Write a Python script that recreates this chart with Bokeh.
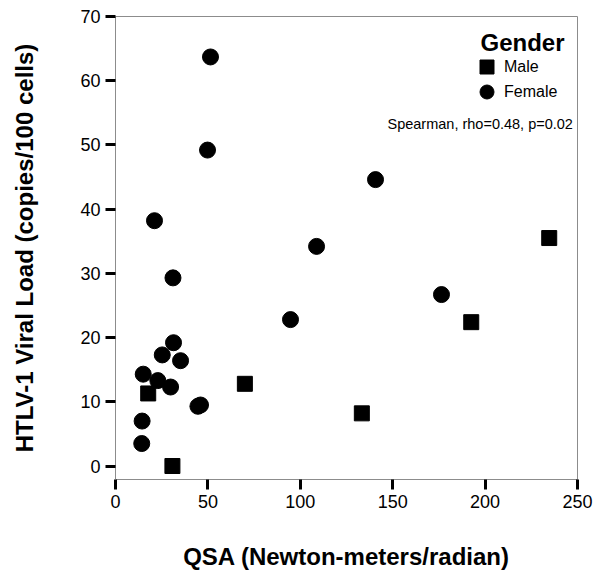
from bokeh.plotting import figure
from bokeh.models import Range1d, Legend, LegendItem, Label, FixedTicker
from bokeh.embed import file_html
from bokeh.resources import INLINE

# Data
female_qsa = [51.4, 49.8, 21.1, 31.1, 31.4, 25.3, 35.2, 15.0, 22.9, 29.8, 44.6, 46.0, 14.4, 14.2, 140.7, 108.8, 176.4, 94.7]
female_vl = [63.7, 49.2, 38.2, 29.3, 19.2, 17.3, 16.4, 14.3, 13.3, 12.3, 9.3, 9.5, 7.0, 3.5, 44.6, 34.2, 26.7, 22.8]
male_qsa = [17.7, 30.8, 70.0, 133.3, 192.5, 234.7]
male_vl = [11.3, 0.0, 12.8, 8.2, 22.4, 35.5]

x_ticks = [0, 50, 100, 150, 200, 250]
y_ticks = [0, 10, 20, 30, 40, 50, 60, 70]

FONT = "Liberation Sans"

p = figure(width=600, height=579, output_backend="svg", toolbar_location=None,
           x_range=Range1d(0, 250), y_range=Range1d(-2.1, 70),
           min_border_left=115, min_border_right=23, min_border_top=16, min_border_bottom=100)

p.xgrid.visible = False
p.ygrid.visible = False
p.outline_line_color = "#8c8c8c"
p.outline_line_width = 1

for ax in (p.xaxis[0], p.yaxis[0]):
    ax.axis_line_color = "#8c8c8c"
    ax.axis_line_width = 1
    ax.major_tick_line_color = "black"
    ax.major_tick_line_width = 3
    ax.major_tick_in = 0
    ax.major_tick_out = 10
    ax.minor_tick_line_color = None
    ax.major_label_text_font = FONT
    ax.major_label_text_font_size = "18px"
    ax.major_label_text_color = "black"
    ax.axis_label_text_font = FONT
    ax.axis_label_text_font_size = "24px"
    ax.axis_label_text_font_style = "bold"
    ax.axis_label_text_color = "black"

p.xaxis[0].ticker = FixedTicker(ticks=x_ticks)
p.yaxis[0].ticker = FixedTicker(ticks=y_ticks)
p.xaxis[0].axis_label = "QSA (Newton-meters/radian)"
p.yaxis[0].axis_label = "HTLV-1 Viral Load (copies/100 cells)"
p.xaxis[0].major_label_standoff = 5
p.yaxis[0].major_label_standoff = 5
p.xaxis[0].axis_label_standoff = 32
p.yaxis[0].axis_label_standoff = 39

r_male = p.scatter(male_qsa, male_vl, marker="square", size=15, color="black")
r_female = p.scatter(female_qsa, female_vl, marker="circle", size=16, color="black")

legend_style = dict(label_text_font=FONT, label_text_font_size="16px", label_text_color="black",
                    glyph_width=35, glyph_height=35, label_standoff=-2,
                    padding=0, margin=0, border_line_color=None, background_fill_alpha=0)
leg_male = Legend(items=[LegendItem(label="Male", renderers=[r_male])],
                  location=(354, 395), **legend_style)
leg_female = Legend(items=[LegendItem(label="Female", renderers=[r_female])],
                    location=(354, 370), **legend_style)
p.add_layout(leg_male, "center")
p.add_layout(leg_female, "center")

p.add_layout(Label(x=365, y=437, x_units="screen", y_units="screen",
                   text="Gender", text_font=FONT, text_font_size="24px",
                   text_font_style="bold", text_color="black", text_baseline="alphabetic"))

p.add_layout(Label(x=272, y=356, x_units="screen", y_units="screen",
                   text="Spearman, rho=0.48, p=0.02", text_font=FONT,
                   text_font_size="14.5px", text_color="black", text_baseline="alphabetic"))

open("out.html", "w").write(file_html(p, INLINE))
